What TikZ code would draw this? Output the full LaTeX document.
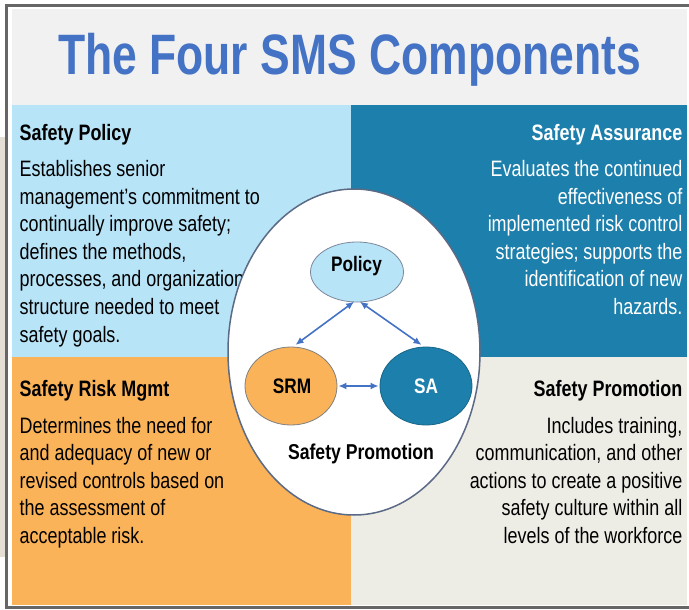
\documentclass[tikz,border=0pt]{standalone}
\usepackage{fontspec}
\setmainfont{Liberation Sans}
\newfontfamily\narrowfont[FakeStretch=0.805]{Liberation Sans}
\newfontfamily\labelfont[FakeStretch=0.82]{Liberation Sans}
\newfontfamily\titlefont[FakeStretch=0.78]{Liberation Sans}
\usetikzlibrary{arrows.meta,shapes.geometric}
\definecolor{framegray}{HTML}{666666}
\definecolor{outbeige}{HTML}{E4DED4}
\definecolor{topgray}{HTML}{F1F1F1}
\definecolor{ltblue}{HTML}{B8E4F8}
\definecolor{tealq}{HTML}{1D7FAB}
\definecolor{orangeq}{HTML}{FBB35A}
\definecolor{beigeq}{HTML}{EEEDE5}
\definecolor{titleblue}{HTML}{4472C4}
\definecolor{ellline}{HTML}{5B6A85}
\definecolor{arrblue}{HTML}{4472C4}
\begin{document}
\begin{tikzpicture}[x=1pt,y=-1pt,
  head/.style={inner sep=0pt, font=\narrowfont\bfseries\fontsize{22.3}{27.6}\selectfont},
  body/.style={inner sep=0pt, font=\narrowfont\fontsize{22.3}{27.6}\selectfont},
  inner/.style={ellipse, inner sep=0pt, line width=0.8pt},
  lbl/.style={inner sep=0pt, font=\labelfont\bfseries\fontsize{21}{24}\selectfont},
  arr/.style={{Latex[length=8pt,width=7pt]}-{Latex[length=8pt,width=7pt]}, draw=arrblue, line width=1.6pt}]
\useasboundingbox (0,0) rectangle (689,610);
\fill[white] (0,0) rectangle (689,610);
\fill[outbeige] (0,137) rectangle (5,557);
\draw[framegray,line width=3pt] (6.7,5.5) rectangle (720,607.5);
\fill[topgray] (12,9) rectangle (687,105);
\fill[ltblue] (12,105) rectangle (351,357);
\fill[tealq] (351,105) rectangle (687,357);
\fill[orangeq] (12,357) rectangle (351,604.5);
\fill[beigeq] (351,357) rectangle (687,604.5);

\node[inner sep=0pt, anchor=base, text=titleblue, font=\titlefont\bfseries\fontsize{57}{60}\selectfont] (title) at (349.5,75) {The Four SMS Components};

\node[head, anchor=base west] (h1) at (19.5,140) {Safety Policy};
\node[body, anchor=base west] (b1) at (19.5,176.5) {\parbox[t]{320pt}{\raggedright Establishes senior\\ management’s commitment to\\ continually improve safety;\\ defines the methods,\\ processes, and organization\\ structure needed to meet\\ safety goals.}};

\node[head, anchor=base east, text=white] (h2) at (682.5,140) {Safety Assurance};
\node[body, anchor=base east, text=white] (b2) at (682.5,176.5) {\parbox[t]{320pt}{\raggedleft Evaluates the continued\\ effectiveness of\\ implemented risk control\\ strategies; supports the\\ identification of new\\ hazards.}};

\node[head, anchor=base west] (h3) at (19.5,396) {Safety Risk Mgmt};
\node[body, anchor=base west] (b3) at (19.5,433) {\parbox[t]{320pt}{\raggedright Determines the need for\\ and adequacy of new or\\ revised controls based on\\ the assessment of\\ acceptable risk.}};

\node[head, anchor=base east] (h4) at (682.5,396) {Safety Promotion};
\node[body, anchor=base east] (b4) at (682.5,433) {\parbox[t]{320pt}{\raggedleft Includes training,\\ communication, and other\\ actions to create a positive\\ safety culture within all\\ levels of the workforce}};

\node[ellipse, draw=ellline, fill=white, line width=1.5pt, inner sep=0pt, minimum width=252pt, minimum height=326pt] (outer) at (354,352) {};

\node[inner, draw=ellline!80, fill=ltblue, minimum width=93pt, minimum height=60pt] (policy) at (357,272) {};
\node[inner, draw=gray, fill=orangeq, minimum width=92pt, minimum height=78pt] (srm) at (291,386) {};
\node[inner, draw=tealq!80!black, fill=tealq, minimum width=92pt, minimum height=78pt] (sa) at (426,386) {};

\node[lbl, anchor=base] (policytxt) at (356.5,271) {Policy};
\node[lbl, anchor=base] (srmtxt) at (292,393.3) {SRM};
\node[lbl, anchor=base, text=white] (satxt) at (426,393.3) {SA};
\node[lbl, anchor=base, font=\labelfont\bfseries\fontsize{21.5}{24}\selectfont] (sptxt) at (361,459) {Safety Promotion};

\draw[arr, shorten <=-1pt, shorten >=3pt] (policy.-97) -- (srm.87);
\draw[arr, shorten <=-1pt, shorten >=3pt] (policy.-83) -- (sa.93);
\draw[arr, shorten <=1pt, shorten >=1pt] (srm.east) -- (sa.west);
\end{tikzpicture}
\end{document}
